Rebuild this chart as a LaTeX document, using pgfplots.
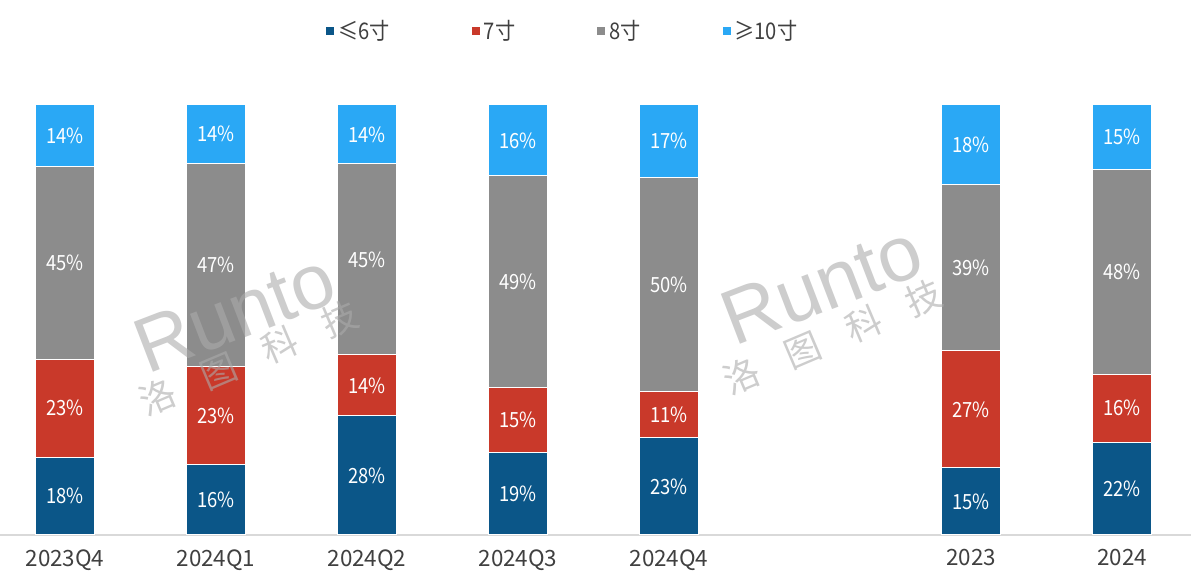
\documentclass[border=0pt]{standalone}
\usepackage{pgfplots}
\pgfplotsset{compat=1.18}
\usepackage{pgfplotstable}
\usepackage{fontspec}
\setmainfont{Noto Sans CJK SC}[FakeStretch=0.88]
\newfontfamily\tickfont{Noto Sans CJK SC}
\newfontfamily\wmfont{Liberation Sans}
\newfontfamily\wmcjk{Noto Sans CJK SC}[BoldFont=*]
\definecolor{cA}{HTML}{0B5688}
\definecolor{cB}{HTML}{C9392A}
\definecolor{cC}{HTML}{8C8C8C}
\definecolor{cD}{HTML}{2AA8F5}
\definecolor{tickc}{HTML}{404040}
\definecolor{axc}{HTML}{D9D9D9}
\definecolor{wm}{HTML}{ABABAB}

\pgfplotstableread{
x  a     b     c     d     la lb lc ld
0  18.1  22.8  44.9  14.2  18 23 45 14
1  16.5  22.6  47.4  13.5  16 23 47 14
2  27.7  14.2  44.4  13.7  28 14 45 14
3  19.3  14.9  49.3  16.5  19 15 49 16
4  22.6  10.7  49.8  16.9  23 11 50 17
6  15.6  27.2  38.8  18.4  15 27 39 18
7  21.6  15.8  47.7  14.9  22 16 48 15
}\datatable
\pgfplotstablecreatecol[create col/expr={\thisrow{a}/2}]{ma}\datatable
\pgfplotstablecreatecol[create col/expr={\thisrow{a}+\thisrow{b}/2}]{mb}\datatable
\pgfplotstablecreatecol[create col/expr={\thisrow{a}+\thisrow{b}+\thisrow{c}/2}]{mc}\datatable
\pgfplotstablecreatecol[create col/expr={\thisrow{a}+\thisrow{b}+\thisrow{c}+\thisrow{d}/2}]{md}\datatable

\pgfplotsset{
  common/.style={
    scale only axis,
    width=1191bp, height=430bp,
    xmin=-0.4305, xmax=7.457,
    ymin=0, ymax=100,
    clip=false,
  },
}

\begin{document}
\begin{tikzpicture}
\begin{axis}[
  common,
  name=ax,
  ybar stacked,
  bar width=0.397,
  hide y axis,
  axis x line*=bottom,
  x axis line style={draw=axc, line width=1.5bp, -},
  xtick={0,1,2,3,4,6,7},
  xticklabels={2023Q4,2024Q1,2024Q2,2024Q3,2024Q4,2023,2024},
  major tick length=0pt,
  xtick style={draw=none},
  xticklabel style={font=\tickfont\fontsize{22.5}{27}\selectfont, text=tickc, yshift=-11bp},
  /pgf/number format/assume math mode=true,
  legend image code/.code={\fill[#1] (0bp,-4.5bp) rectangle (9bp,4.5bp);},
  legend style={
    at={(0.273,1.172)}, anchor=west,
    draw=none, fill=none,
    legend columns=4,
    inner sep=0pt,
    nodes={inner sep=3bp, text=tickc, font=\fontsize{23}{27}\selectfont},
    /tikz/every even column/.append style={column sep=78bp},
  },
]
\addplot[fill=cA, draw=white, line width=1bp] table[x=x, y=a]{\datatable};
\addplot[fill=cB, draw=white, line width=1bp] table[x=x, y=b]{\datatable};
\addplot[fill=cC, draw=white, line width=1bp] table[x=x, y=c]{\datatable};
\addplot[fill=cD, draw=white, line width=1bp] table[x=x, y=d]{\datatable};
\legend{≤6寸,7寸,8寸,≥10寸}
\end{axis}
\begin{scope}[shift={(ax.south west)}, text=wm, opacity=0.6]
  \node[rotate=21, font=\wmfont\fontsize{78}{80}\selectfont] at (235bp,222bp) {Runto};
  \node[rotate=23, font=\wmcjk\bfseries\fontsize{36}{40}\selectfont] at (249bp,177bp) {洛\hspace{30bp}图\hspace{30bp}科\hspace{30bp}技};
  \node[rotate=21, font=\wmfont\fontsize{78}{80}\selectfont] at (822bp,250bp) {Runto};
  \node[rotate=23, font=\wmcjk\bfseries\fontsize{36}{40}\selectfont] at (833bp,198bp) {洛\hspace{30bp}图\hspace{30bp}科\hspace{30bp}技};
\end{scope}
\begin{axis}[
  common,
  at={(ax.south west)}, anchor=south west,
  hide axis,
  point meta=explicit symbolic,
  nodes near coords={\pgfplotspointmeta\%},
  every node near coord/.append style={
    anchor=center, text=white,
    font=\fontsize{21}{25}\selectfont},
]
\addplot[only marks, mark=none] table[x=x, y=ma, meta=la]{\datatable};
\addplot[only marks, mark=none] table[x=x, y=mb, meta=lb]{\datatable};
\addplot[only marks, mark=none] table[x=x, y=mc, meta=lc]{\datatable};
\addplot[only marks, mark=none] table[x=x, y=md, meta=ld]{\datatable};
\end{axis}
\pgfresetboundingbox
\useasboundingbox ([yshift=-48bp]ax.south west) rectangle ([yshift=105bp]ax.north east);
\end{tikzpicture}
\end{document}
